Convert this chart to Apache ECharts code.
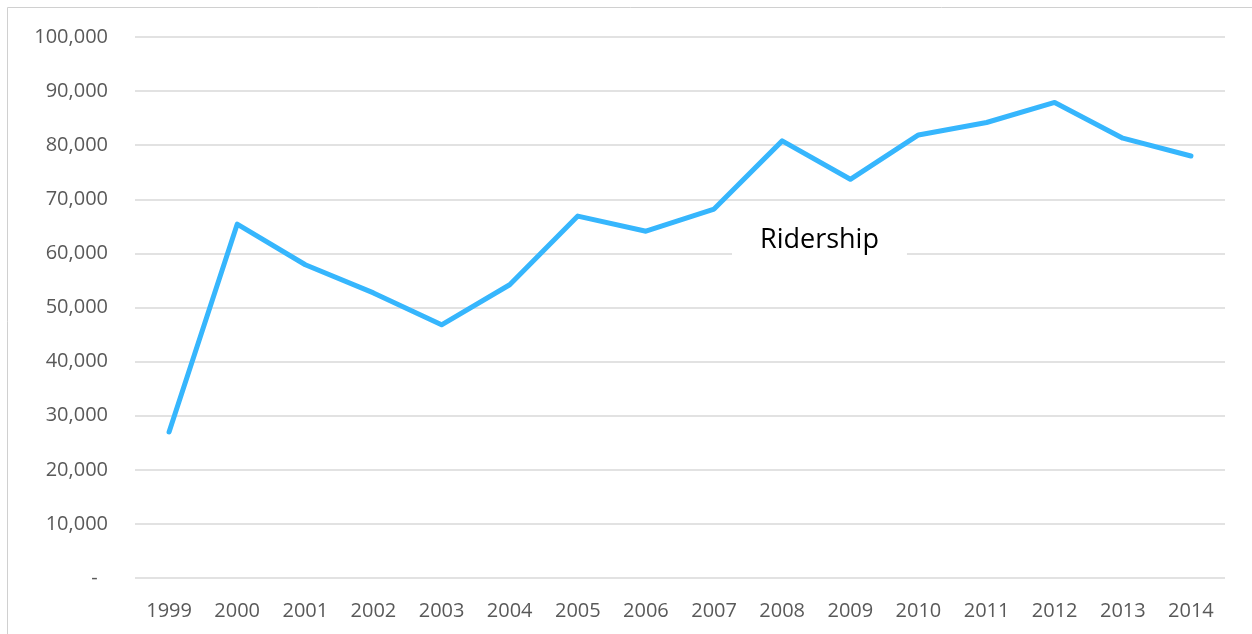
<!DOCTYPE html>
<html>
<head>
<meta charset="utf-8">
<script src="https://cdn.jsdelivr.net/npm/echarts@6/dist/echarts.min.js"></script>
<style>html,body{margin:0;padding:0;background:#fff;}#c{width:1252px;height:634px;}</style>
</head>
<body>
<div id="c"></div>
<script>
var years = ['1999','2000','2001','2002','2003','2004','2005','2006','2007','2008','2009','2010','2011','2012','2013','2014'];
var ridership = [27000, 65400, 57900, 52700, 46800, 54200, 66900, 64100, 68200, 80800, 73700, 81900, 84200, 87900, 81300, 78000];
var titleText = 'Ridership';

var chart = echarts.init(document.getElementById('c'), null, {renderer: 'canvas'});
chart.setOption({
  backgroundColor: '#fff',
  animation: false,
  graphic: [{
    type: 'rect',
    shape: {x: 7.5, y: 7.5, width: 1400, height: 1000},
    style: {fill: 'none', stroke: '#d0d0d0', lineWidth: 1},
    z: 0
  }],
  title: {
    text: titleText,
    left: 732,
    top: 215,
    padding: [10, 28],
    backgroundColor: '#fff',
    textStyle: {fontFamily: 'Open Sans', fontSize: 27, fontWeight: 'normal', color: '#000', lineHeight: 30},
    z: 6
  },
  grid: {left: 135, right: 27, top: 37, bottom: 56, containLabel: false},
  xAxis: {
    type: 'category',
    data: years,
    boundaryGap: true,
    axisLine: {show: false},
    axisTick: {show: false},
    axisLabel: {color: '#595959', fontFamily: 'Open Sans', fontSize: 20, margin: 23}
  },
  yAxis: {
    type: 'value',
    min: 0,
    max: 100000,
    interval: 10000,
    axisLine: {show: false},
    axisTick: {show: false},
    splitLine: {lineStyle: {color: '#d9d9d9', width: 1.5}},
    axisLabel: {
      color: '#595959', fontFamily: 'Open Sans', fontSize: 20, margin: 27,
      formatter: function (v) { return v === 0 ? '-  ' : v.toLocaleString('en-US'); }
    }
  },
  series: [{
    type: 'line',
    data: ridership,
    symbol: 'none',
    lineStyle: {color: '#36b6fd', width: 5, cap: 'round', join: 'round'},
    z: 2
  }]
});
</script>
</body>
</html>
